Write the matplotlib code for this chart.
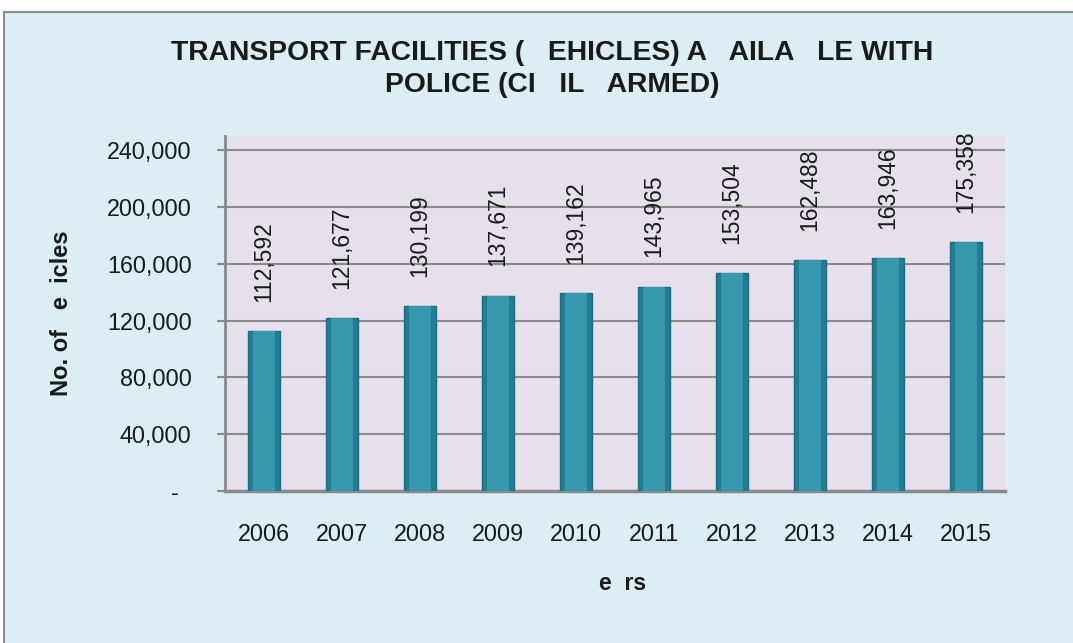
import matplotlib
matplotlib.use('Agg')
import matplotlib.pyplot as plt
from matplotlib.patches import Rectangle
from matplotlib.ticker import FuncFormatter

years = ['2006', '2007', '2008', '2009', '2010', '2011', '2012', '2013', '2014', '2015']
vehicles = [112592, 121677, 130199, 137671, 139162, 143965, 153504, 162488, 163946, 175358]
y_ticks = [0, 40000, 80000, 120000, 160000, 200000, 240000]

title = 'TRANSPORT FACILITIES (   EHICLES) A   AILA   LE WITH\nPOLICE (CI   IL   ARMED)'
y_label = 'No. of   e  icles'
x_label = 'e  rs'

plt.rcParams['font.family'] = ['Liberation Sans', 'DejaVu Sans']

fig = plt.figure(figsize=(10.73, 6.43), dpi=100, facecolor='white')

# light blue chart area with grey frame
frame = Rectangle((4 / 1073, -0.01), 1.0, (643 - 12) / 643 + 0.01, transform=fig.transFigure,
                  facecolor='#DBEEF4', edgecolor='#8C8C8C', linewidth=1.5, zorder=-5)
fig.patches.append(frame)

ax = fig.add_axes([225 / 1073, (643 - 491) / 643, (1005 - 225) / 1073, (491 - 136) / 643])
ax.set_zorder(2)
ax.set_facecolor('#E6DFEC')

x = range(len(years))
# darker outer bar + lighter inner bar to fake the 3d look
ax.bar(x, vehicles, width=0.41, color='#237D94', edgecolor='#1D6C80', linewidth=1, zorder=3)
ax.bar(x, vehicles, width=0.27, color='#3697AE', linewidth=0, zorder=3)

for i, v in enumerate(vehicles):
    ax.annotate(f'{v:,}', (i, v), xytext=(0, 21), textcoords='offset points',
                rotation=90, ha='center', va='bottom', fontsize=16.5, color='#1a1a1a',
                annotation_clip=False, zorder=4)

ax.set_xlim(-0.5, len(years) - 0.5)
ax.set_ylim(0, 250000)
ax.set_yticks(y_ticks)
ax.yaxis.set_major_formatter(FuncFormatter(lambda v, p: '-  ' if v == 0 else f'{int(v):,}'))
ax.set_xticks(list(x))
ax.set_xticklabels(years)

ax.grid(axis='y', color='#8A8A8A', linewidth=1.5, zorder=1)
ax.set_axisbelow(True)

for s in ['top', 'right']:
    ax.spines[s].set_visible(False)
ax.spines['left'].set_color('#8A8A8A')
ax.spines['left'].set_linewidth(2)
ax.spines['bottom'].set_color('#8A8A8A')
ax.spines['bottom'].set_linewidth(2.5)

ax.tick_params(axis='y', length=6, width=1.5, color='#8A8A8A', pad=18, labelsize=16.8, labelcolor='#1a1a1a')
ax.tick_params(axis='x', length=0, pad=23, labelsize=16.8, labelcolor='#1a1a1a')

fig.text(552 / 1073, 1 - 69 / 643, title, ha='center', va='center', fontsize=20.3,
         fontweight='bold', color='#1a1a1a', linespacing=1.32)
fig.text(62 / 1073, 1 - 313 / 643, y_label, rotation=90, ha='center', va='center',
         fontsize=17, fontweight='bold', color='#1a1a1a')
fig.text(623 / 1073, 1 - 583 / 643, x_label, ha='center', va='center',
         fontsize=16.5, fontweight='bold', color='#1a1a1a')

fig.savefig('out.png', dpi=100, facecolor=fig.get_facecolor())
